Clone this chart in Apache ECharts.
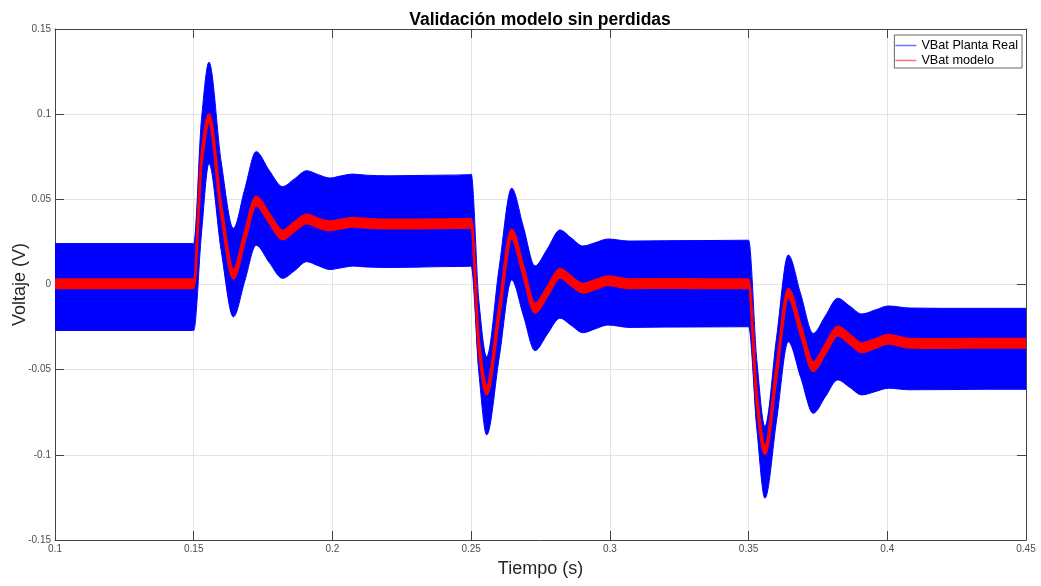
<!DOCTYPE html>
<html>
<head>
<meta charset="utf-8">
<script src="https://cdn.jsdelivr.net/npm/echarts@6/dist/echarts.min.js"></script>
<style>html,body{margin:0;padding:0;background:#fff}#c{width:1041px;height:586px}</style>
</head>
<body>
<div id="c"></div>
<script>
// Time samples (s)
const tiempo = [
  0.1, 0.1003, 0.1495, 0.15, 0.1528, 0.1555, 0.1599, 0.1643, 0.1684, 0.1725, 0.1772, 0.1820, 0.1863, 0.1907, 0.1949, 0.1991, 0.2032, 0.2074, 0.2120, 0.22, 0.23, 0.24, 0.2495,
  0.25, 0.2528, 0.2556, 0.2601, 0.2646, 0.2688, 0.2730, 0.2775, 0.2820, 0.2861, 0.2903, 0.2948, 0.2993, 0.3070, 0.32, 0.335, 0.3495,
  0.35, 0.3530, 0.3559, 0.3601, 0.3643, 0.3688, 0.3733, 0.3777, 0.3821, 0.3865, 0.3908, 0.3956, 0.4004, 0.4080, 0.42, 0.435, 0.4497, 0.45
];
// VBat Planta Real: upper envelope of the switching ripple (V)
const vbatSup = [
  0.024, 0.024, 0.024, 0.024, 0.097, 0.1305, 0.072, 0.033, 0.056, 0.078, 0.067, 0.0575, 0.062, 0.0668, 0.0645, 0.0625, 0.0638, 0.0648, 0.0642, 0.0638, 0.064, 0.0642, 0.0645,
  0.0648, -0.010, -0.0424, 0.010, 0.0565, 0.034, 0.0109, 0.021, 0.032, 0.0273, 0.0226, 0.0246, 0.0267, 0.0255, 0.0257, 0.0258, 0.026,
  0.026, -0.045, -0.0834, -0.031, 0.0173, -0.0057, -0.0287, -0.0184, -0.0081, -0.0127, -0.0173, -0.015, -0.0126, -0.0138, -0.014, -0.014, -0.014, -0.014
];
// VBat Planta Real: lower envelope (V)
const vbatInf = [
  -0.027, -0.027, -0.027, -0.027, 0.030, 0.071, 0.020, -0.019, 0.002, 0.023, 0.013, 0.0036, 0.008, 0.0134, 0.011, 0.0088, 0.0098, 0.0108, 0.0103, 0.0100, 0.0102, 0.0105, 0.0107,
  0.0108, -0.052, -0.0883, -0.043, 0.0026, -0.018, -0.0388, -0.029, -0.0198, -0.024, -0.0283, -0.026, -0.0238, -0.0252, -0.025, -0.0249, -0.0248,
  -0.0248, -0.085, -0.1255, -0.0796, -0.0336, -0.0546, -0.0756, -0.0658, -0.056, -0.0604, -0.0648, -0.0629, -0.0609, -0.0618, -0.0617, -0.0615, -0.0615, -0.0615
];
// VBat modelo: centre of the red trace (V)
const vbatModelo = [
  0.0005, 0.0005, 0.0005, 0.0005, 0.073, 0.0975, 0.044, 0.006, 0.028, 0.049, 0.039, 0.029, 0.034, 0.0385, 0.036, 0.0345, 0.0355, 0.0365, 0.036, 0.0355, 0.0355, 0.0357, 0.0358,
  0.0358, -0.036, -0.062, -0.016, 0.0296, 0.008, -0.014, -0.004, 0.0066, 0.002, -0.0022, 0.0, 0.0022, 0.0005, 0.0006, 0.0005, 0.0004,
  0.0004, -0.068, -0.0971, -0.051, -0.0052, -0.0267, -0.0482, -0.0378, -0.0273, -0.0322, -0.0371, -0.0347, -0.0322, -0.0345, -0.0346, -0.0345, -0.0345, -0.0345
];
// half amplitude of the ripple on the model trace (V)
const rizadoModelo = 0.0025;

const etiquetasX = ['0.1', '0.15', '0.2', '0.25', '0.3', '0.35', '0.4', '0.45'];
const etiquetasY = ['-0.15', '-0.1', '-0.05', '0', '0.05', '0.1', '0.15'];
const nombres = ['VBat Planta Real', 'VBat modelo'];

const modeloSup = vbatModelo.map(v => v + rizadoModelo);
const modeloInf = vbatModelo.map(v => v - rizadoModelo);

const FONT = 'Liberation Sans, Arial, Helvetica, sans-serif';

// Monotone cubic (Fritsch-Carlson) bezier segments through pixel points
function segmentos(P) {
  const n = P.length, s = [], m = new Array(n);
  for (let k = 0; k < n - 1; k++) {
    const dx = P[k + 1][0] - P[k][0];
    s.push(dx > 1e-9 ? (P[k + 1][1] - P[k][1]) / dx : 0);
  }
  m[0] = s[0]; m[n - 1] = s[n - 2];
  for (let k = 1; k < n - 1; k++) {
    if (s[k - 1] * s[k] <= 0) { m[k] = 0; continue; }
    const h0 = P[k][0] - P[k - 1][0], h1 = P[k + 1][0] - P[k][0];
    const w1 = 2 * h1 + h0, w2 = h1 + 2 * h0;
    m[k] = (w1 + w2) / (w1 / s[k - 1] + w2 / s[k]);
  }
  const seg = [];
  for (let k = 0; k < n - 1; k++) {
    const h = P[k + 1][0] - P[k][0];
    seg.push([
      [P[k][0] + h / 3, P[k][1] + m[k] * h / 3],
      [P[k + 1][0] - h / 3, P[k + 1][1] - m[k + 1] * h / 3]
    ]);
  }
  return seg;
}

function f(p) { return p[0].toFixed(2) + ' ' + p[1].toFixed(2); }

function banda(sup, inf, color, stroke) {
  return function (params, api) {
    if (params.dataIndex !== 0) return null;
    const A = tiempo.map((t, i) => api.coord([t, sup[i]]));
    const B = tiempo.map((t, i) => api.coord([t, inf[i]]));
    const sa = segmentos(A), sb = segmentos(B);
    let d = 'M' + f(A[0]);
    for (let k = 0; k < sa.length; k++) d += ' C' + f(sa[k][0]) + ' ' + f(sa[k][1]) + ' ' + f(A[k + 1]);
    d += ' L' + f(B[B.length - 1]);
    for (let k = sb.length - 1; k >= 0; k--) d += ' C' + f(sb[k][1]) + ' ' + f(sb[k][0]) + ' ' + f(B[k]);
    d += ' Z';
    return {
      type: 'path',
      shape: { pathData: d },
      style: { fill: color, stroke: color, lineWidth: stroke, lineJoin: 'round' }
    };
  };
}

const chart = echarts.init(document.getElementById('c'), null, { renderer: 'canvas' });
const axisCol = '#444';
const gridCol = '#e3e3e3';
const baseAxis = {
  axisLine: { show: true, onZero: false, lineStyle: { color: axisCol, width: 1 } },
  axisTick: { show: true, inside: true, length: 9, lineStyle: { color: axisCol } }
};
chart.setOption({
  animation: false,
  backgroundColor: '#fff',
  title: {
    text: 'Validación modelo sin perdidas',
    left: 535, top: 6, textAlign: 'center',
    textStyle: { fontFamily: FONT, fontSize: 17.5, fontWeight: 'bold', color: '#000' }
  },
  legend: {
    data: [
      { name: nombres[0], icon: 'rect', itemStyle: { color: '#7070ff', borderWidth: 0, borderColor: '#7070ff' } },
      { name: nombres[1], icon: 'rect', itemStyle: { color: '#ff7070', borderWidth: 0, borderColor: '#ff7070' } }
    ],
    orient: 'vertical', right: 19, top: 35,
    itemWidth: 21, itemHeight: 1.5, itemGap: 2,
    padding: [4, 4, 1, 1],
    borderColor: '#666', borderWidth: 1, backgroundColor: '#fff',
    selectedMode: false,
    textStyle: { fontFamily: FONT, fontSize: 12.7, color: '#000' }
  },
  grid: { left: 55, right: 15, top: 29, bottom: 46, outerBoundsMode: 'none', containLabel: false },
  xAxis: [Object.assign({
    type: 'value', min: 0.1, max: 0.45, interval: 0.05,
    name: 'Tiempo (s)', nameLocation: 'middle', nameGap: 20, nameMoveOverlap: false,
    nameTextStyle: { fontFamily: FONT, fontSize: 18, color: '#262626' },
    axisLabel: { fontFamily: FONT, fontSize: 10, color: '#4d4d4d', margin: 4,
      formatter: v => etiquetasX[Math.round((v - 0.1) / 0.05)] },
    splitLine: { show: true, lineStyle: { color: gridCol, width: 1 } }
  }, baseAxis), Object.assign({
    type: 'value', position: 'top', min: 0.1, max: 0.45, interval: 0.05,
    axisLabel: { show: false }, splitLine: { show: false }
  }, baseAxis)],
  yAxis: [Object.assign({
    type: 'value', min: -0.15, max: 0.15, interval: 0.05,
    name: 'Voltaje (V)', nameLocation: 'middle', nameGap: 26, nameMoveOverlap: false,
    nameTextStyle: { fontFamily: FONT, fontSize: 18, color: '#262626' },
    axisLabel: { fontFamily: FONT, fontSize: 10, color: '#4d4d4d', margin: 4,
      formatter: v => etiquetasY[Math.round((v + 0.15) / 0.05)] },
    splitLine: { show: true, lineStyle: { color: gridCol, width: 1 } }
  }, baseAxis), Object.assign({
    type: 'value', position: 'right', min: -0.15, max: 0.15, interval: 0.05,
    axisLabel: { show: false }, splitLine: { show: false }
  }, baseAxis)],
  series: [{
    name: nombres[0], type: 'custom', clip: true,
    itemStyle: { color: '#0000ff' },
    data: tiempo.map((t, i) => [t, vbatSup[i], vbatInf[i]]),
    encode: { x: 0, y: [1, 2] },
    renderItem: banda(vbatSup, vbatInf, '#0000ff', 1),
    z: 2
  }, {
    name: nombres[1], type: 'custom', clip: true,
    itemStyle: { color: '#ff0000' },
    data: tiempo.map((t, i) => [t, modeloSup[i], modeloInf[i]]),
    encode: { x: 0, y: [1, 2] },
    renderItem: banda(modeloSup, modeloInf, '#ff0000', 2.5),
    z: 3
  }]
});
</script>
</body>
</html>
